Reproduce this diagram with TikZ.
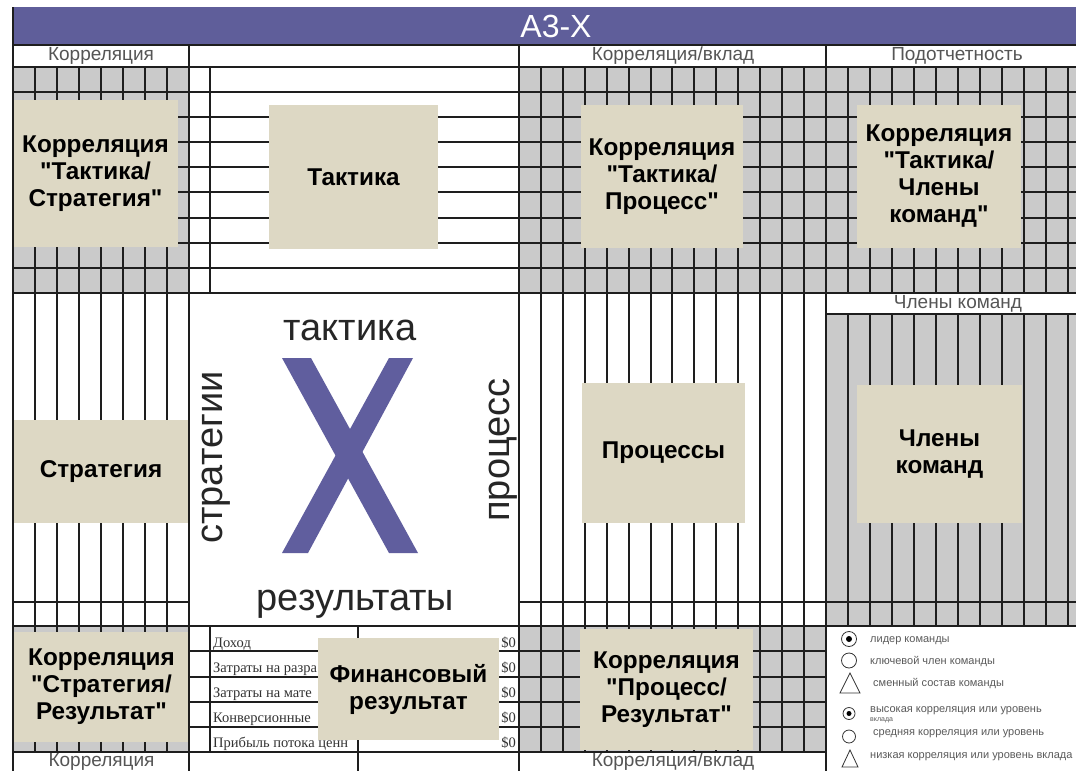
\documentclass[tikz,border=0pt]{standalone}
\usepackage{fontspec}
\setmainfont{Liberation Sans}[Ligatures=TeXOff]
\newfontfamily\tabserif{Liberation Serif}
\definecolor{titlebar}{RGB}{95,94,154}
\definecolor{xcol}{RGB}{96,94,158}
\definecolor{beige}{RGB}{221,216,196}
\definecolor{cellgray}{RGB}{202,202,202}
\definecolor{gridc}{RGB}{30,30,30}
\definecolor{hdrc}{RGB}{85,85,85}
\definecolor{legc}{RGB}{90,90,90}
\begin{document}
\begin{tikzpicture}[x=1pt,y=-1pt,
  grid/.style={draw=gridc,line width=1.2pt},
  frame/.style={draw=gridc,line width=1.7pt},
  box/.style={fill=beige,inner sep=0pt,align=center,text=black,font=\fontsize{24.3}{27}\selectfont\bfseries},
  hdr/.style={text=hdrc,font=\fontsize{19}{21}\selectfont,inner sep=0pt},
  big/.style={text=black!85,font=\fontsize{38}{40}\selectfont,inner sep=0pt},
  tab/.style={font=\tabserif\fontsize{14.5}{16}\selectfont,anchor=base west,inner sep=0pt,text=black!80},
  leg/.style={font=\fontsize{11}{12}\selectfont,text=legc,anchor=base west,inner sep=0pt},
  sym/.style={draw=black!80,line width=0.8pt}]
\useasboundingbox (0,0) rectangle (1076,771);
\fill[white] (0,0) rectangle (1076,771);
% title bar
\fill[titlebar] (13,7) rectangle (1076,45);
\node[font=\fontsize{32}{34}\selectfont,text=white,inner sep=0pt] (title) at (556,26) {A3-X};
% gray cells
\fill[cellgray] (13,67) rectangle (189,293);
\fill[cellgray] (519,67) rectangle (1076,293);
\fill[cellgray] (826,314) rectangle (1076,626);
\fill[cellgray] (13,626) rectangle (189,752);
\fill[cellgray] (519,626) rectangle (826,752);
% grid lines
\foreach \y in {92,117,142,167,192,218,243,268} \draw[grid] (13,\y) -- (1076,\y);
\foreach \x in {35,57,79,101,123,145,167} \draw[grid] (\x,67) -- (\x,752);
\draw[grid] (210,67) -- (210,293);
\foreach \x in {541,563,585,607,629,651,672,694,716,738,760,782,804} \draw[grid] (\x,67) -- (\x,752);
\foreach \x in {848,870,892,914,936,958,980,1002,1024,1046,1068} {\draw[grid] (\x,67) -- (\x,293); \draw[grid] (\x,314) -- (\x,626);}
\draw[grid] (13,602) -- (189,602);
\draw[grid] (519,602) -- (1076,602);
\foreach \y in {651,677,702,727} \draw[grid] (189,\y) -- (826,\y);
\draw[grid] (210,626) -- (210,752);
\draw[grid] (358,626) -- (358,771);
% table text
\node[tab] (r1) at (213,647) {Доход};
\node[tab] (r2) at (213,672) {Затраты на разра};
\node[tab] (r3) at (213,697) {Затраты на мате};
\node[tab] (r4) at (213,722) {Конверсионные};
\node[tab] (r5) at (213,747) {Прибыль потока ценн};
\foreach \y/\n in {647/1,672/2,697/3,722/4,747/5} \node[tab,anchor=base east] (d\n) at (516,\y) {\$0};
% header labels
\node[hdr] (h1) at (101,56) {Корреляция};
\node[hdr] (h2) at (673,56) {Корреляция/вклад};
\node[hdr] (h3) at (957,56) {Подотчетность};
\node[hdr] (h4) at (958,304) {Члены команд};
\node[hdr] (h5) at (101.5,762) {Корреляция};
\node[hdr] (h6) at (673,762) {Корреляция/вклад};
% boxes
\node[box,minimum width=165,minimum height=147] (b1) at (95.5,173.5) {Корреляция\\"Тактика/\\Стратегия"};
\node[box,minimum width=169,minimum height=144] (b2) at (353.5,177) {Тактика};
\node[box,minimum width=162,minimum height=143] (b3) at (662,176.5) {Корреляция\\"Тактика/\\Процесс"};
\node[box,minimum width=164,minimum height=143] (b4) at (939,176.5) {Корреляция\\"Тактика/\\Члены\\команд"};
\node[box,minimum width=176,minimum height=103] (b5) at (101,471.5) {Стратегия};
\node[box,minimum width=163,minimum height=140] (b6) at (663.5,453) {Процессы};
\node[box,minimum width=165,minimum height=138] (b7) at (939.5,454) {Члены\\команд};
\node[box,minimum width=175,minimum height=110] (b8) at (101.5,687) {Корреляция\\"Стратегия/\\Результат"};
\node[box,minimum width=181,minimum height=102] (b9) at (408.5,689) {Финансовый\\результат};
\node[box,minimum width=173,minimum height=121] (b10) at (666.5,689.5) {Корреляция\\"Процесс/\\Результат"};
% centre X
\fill[xcol] (282,358) -- (311,358) -- (418,553) -- (389,553) -- cycle;
\fill[xcol] (389,358) -- (413,358) -- (308,553) -- (282,553) -- cycle;
\node[big,anchor=base] (w1) at (350,340) {тактика};
\node[big,anchor=base] (w2) at (355.5,610) {результаты};
\node[big,anchor=base,rotate=90] (w3) at (222,457.5) {стратегии};
\node[big,anchor=base,rotate=90] (w4) at (509,450) {процесс};
% legend
\draw[sym] (849,639) circle (7.5pt); \fill[black] (849,639) circle (3pt);
\draw[sym] (849,660.5) circle (7.5pt);
\draw[sym] (840,693) -- (850,673) -- (860,693) -- cycle;
\draw[sym] (849,713.5) circle (6pt); \fill[black] (849,713.5) circle (2.5pt);
\draw[sym] (849,736.5) circle (6.5pt);
\draw[sym] (842,767) -- (850,750) -- (858,767) -- cycle;
\node[leg] (l1) at (870,642) {лидер команды};
\node[leg] (l2) at (870,664) {ключевой член команды};
\node[leg] (l3) at (873,686) {сменный состав команды};
\node[leg] (l4) at (870,712) {высокая корреляция или уровень};
\node[leg,font=\fontsize{7}{8}\selectfont] (l4b) at (870,721) {вклада};
\node[leg] (l5) at (873,735) {средняя корреляция или уровень};
\node[leg] (l6) at (870,758) {низкая корреляция или уровень вклада};
% frame lines
\draw[frame] (13,7) -- (13,771);
\draw[frame] (13,45) -- (1076,45);
\draw[frame] (13,67) -- (1076,67);
\draw[frame] (13,293) -- (1076,293);
\draw[frame] (13,626) -- (1076,626);
\draw[frame] (13,752) -- (826,752);
\draw[frame] (189,45) -- (189,771);
\draw[frame] (519,45) -- (519,771);
\draw[frame] (826,45) -- (826,771);
\draw[frame] (826,314) -- (1076,314);
\end{tikzpicture}
\end{document}
